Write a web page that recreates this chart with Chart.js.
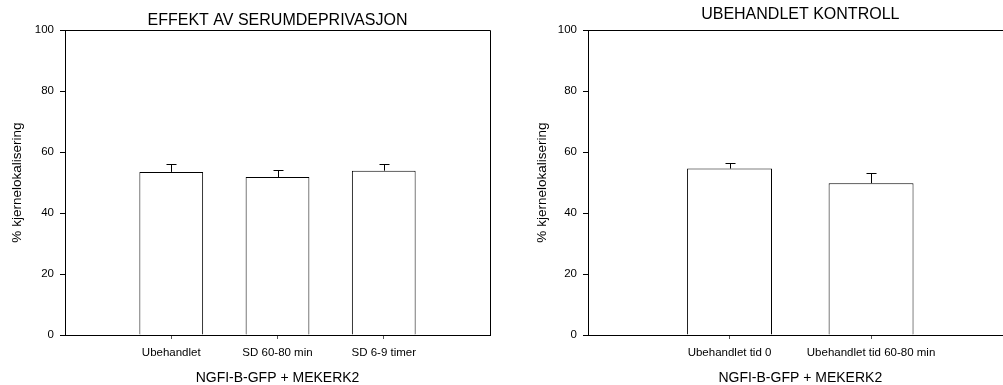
<!DOCTYPE html>
<html>
<head>
<meta charset="utf-8">
<script src="https://cdn.jsdelivr.net/npm/chart.js@4.4.1/dist/chart.umd.min.js"></script>
<style>
  body { margin: 0; background: #fff; overflow: hidden; width: 1003px; height: 385px; position: relative; }
  #chartL { position: absolute; left: 0; top: 0; }
  #chartR { position: absolute; left: 500px; top: 0; }
</style>
</head>
<body>
<canvas id="chartL" width="500" height="385"></canvas>
<canvas id="chartR" width="520" height="385"></canvas>
<script>
// values (mean +/- error)
const catsLeft = ['Ubehandlet', 'SD 60-80 min', 'SD 6-9 timer'];
const meanLeft = [53.5, 51.8, 53.9];
const errLeft = [2.7, 2.2, 2.2];

const catsRight = ['Ubehandlet tid 0', 'Ubehandlet tid 60-80 min'];
const meanRight = [54.6, 49.8];
const errRight = [1.9, 3.3];

const yMin = 0, yMax = 100, yStep = 20;
const xTitle = 'NGFI-B-GFP + MEKERK2';
const yTitle = '% kjernelokalisering';

Chart.defaults.font.family = "'Liberation Sans', Arial, sans-serif";
Chart.defaults.color = '#000';

// error bars drawn on top of each bar (upper half only)
const errorBars = {
    id: 'errorBars',
    afterDatasetsDraw(chart, args, opts) {
        const ctx = chart.ctx;
        const x = chart.scales.x, y = chart.scales.y;
        const pts = chart.data.datasets[0].data;
        ctx.save();
        ctx.strokeStyle = '#000';
        ctx.lineWidth = 1;
        pts.forEach((p, i) => {
            const px = Math.round(x.getPixelForValue(p.x)) + 0.5;
            const y0 = y.getPixelForValue(p.y);
            const y1 = Math.round(y.getPixelForValue(p.y + opts.errors[i])) + 0.5;
            ctx.beginPath();
            ctx.moveTo(px, y0);
            ctx.lineTo(px, y1);
            ctx.moveTo(px - 5, y1);
            ctx.lineTo(px + 5, y1);
            ctx.stroke();
        });
        ctx.restore();
    }
};

// top + right frame lines
const frame = {
    id: 'frame',
    afterDraw(chart) {
        const {ctx, chartArea: a} = chart;
        ctx.save();
        ctx.strokeStyle = '#000';
        ctx.lineWidth = 1;
        ctx.beginPath();
        ctx.moveTo(Math.round(a.left), Math.round(a.top) + 0.5);
        ctx.lineTo(Math.round(a.right) + 0.5, Math.round(a.top) + 0.5);
        ctx.lineTo(Math.round(a.right) + 0.5, Math.round(a.bottom));
        ctx.stroke();
        ctx.restore();
    }
};

function makeChart(id, cats, means, errs, title, titlePad, yWidth, yTitlePad, padRight) {
    const points = means.map((v, i) => ({x: i + 1, y: v}));
    return new Chart(document.getElementById(id), {
        type: 'bar',
        data: {
            datasets: [{
                data: points,
                backgroundColor: '#fff',
                borderColor: '#000',
                borderWidth: 1,
                barPercentage: 0.6,
                categoryPercentage: 1
            }]
        },
        options: {
            responsive: false,
            animation: false,
            layout: { padding: { left: 0, right: padRight, top: 0, bottom: 0 } },
            plugins: {
                legend: { display: false },
                tooltip: { enabled: false },
                title: {
                    display: true,
                    text: title,
                    fullSize: false,
                    color: '#000',
                    font: { size: 16, weight: 'normal' },
                    padding: titlePad
                },
                errorBars: { errors: errs }
            },
            scales: {
                x: {
                    type: 'linear',
                    min: 0,
                    max: cats.length + 1,
                    offset: false,
                    afterBuildTicks: s => { s.ticks = cats.map((c, i) => ({value: i + 1})); },
                    afterFit: s => { s.height = 50; },
                    ticks: {
                        callback: v => cats[v - 1],
                        autoSkip: false,
                        maxRotation: 0,
                        padding: 7,
                        color: '#000',
                        font: { size: 11.5 }
                    },
                    grid: { offset: false, drawOnChartArea: false, tickLength: 4, tickColor: '#555' },
                    border: { color: '#000', width: 1 },
                    title: {
                        display: true,
                        text: xTitle,
                        color: '#000',
                        font: { size: 14, lineHeight: 1 },
                        padding: 0
                    }
                },
                y: {
                    min: yMin,
                    max: yMax,
                    afterFit: s => { s.width = yWidth; },
                    ticks: { stepSize: yStep, padding: 6, color: '#000', font: { size: 11.5 } },
                    grid: { drawOnChartArea: false, tickLength: 5, tickColor: '#000' },
                    border: { color: '#000', width: 1 },
                    title: {
                        display: true,
                        text: yTitle,
                        color: '#000',
                        font: { size: 13.5 },
                        padding: { top: yTitlePad, bottom: 0 }
                    }
                }
            }
        },
        plugins: [errorBars, frame]
    });
}

makeChart('chartL', catsLeft, meanLeft, errLeft, 'EFFEKT AV SERUMDEPRIVASJON', {top: 11, bottom: 0}, 65, 9.5, 10);
makeChart('chartR', catsRight, meanRight, errRight, 'UBEHANDLET KONTROLL', {top: 5, bottom: 6}, 88, 34.5, 7.4);
</script>
</body>
</html>
